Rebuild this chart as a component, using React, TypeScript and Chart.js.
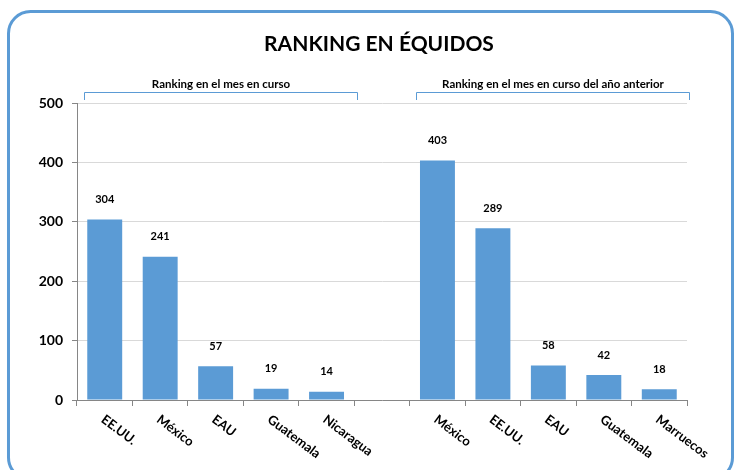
import React, { useEffect, useRef } from "react";
import { Chart, registerables } from "chart.js";

Chart.register(...registerables);

const TITLE = "RANKING EN ÉQUIDOS";
const GROUP_TITLES = ["Ranking en el mes en curso", "Ranking en el mes en curso del año anterior"];
const CATEGORIES = ["EE.UU.", "México", "EAU", "Guatemala", "Nicaragua", "", "México", "EE.UU.", "EAU", "Guatemala", "Marruecos"];
const VALUES: (number | null)[] = [304, 241, 57, 19, 14, null, 403, 289, 58, 42, 18];
const Y_TICKS = [0, 100, 200, 300, 400, 500];
const GROUP_RANGES = [[0, 4], [6, 10]];

const FONT = "Lato, 'Open Sans', sans-serif";
const BLUE = "#5B9BD5";

const decorPlugin = {
  id: "decor",
  beforeDraw(chart: any) {
    const ctx = chart.ctx;
    ctx.save();
    ctx.fillStyle = "#ffffff";
    ctx.fillRect(0, 0, chart.width, chart.height);
    ctx.strokeStyle = BLUE;
    ctx.lineWidth = 3;
    ctx.beginPath();
    (ctx as any).roundRect(8.5, 11.5, 724, 468, 22);
    ctx.stroke();
    ctx.restore();
  },
  afterDraw(chart: any) {
    const ctx = chart.ctx;
    const x = chart.scales.x;
    const y = chart.scales.y;
    ctx.save();
    // title
    ctx.fillStyle = "#000";
    ctx.font = `bold 21px ${FONT}`;
    ctx.textAlign = "center";
    ctx.textBaseline = "middle";
    ctx.fillText(TITLE, 379, 44);

    // brackets
    GROUP_RANGES.forEach((r, i) => {
      const x0 = Math.round(x.getPixelForValue(r[0]) - 21) + 0.5;
      const x1 = Math.round(x.getPixelForValue(r[1]) + 30) + 0.5;
      ctx.strokeStyle = BLUE;
      ctx.lineWidth = 1;
      ctx.beginPath();
      ctx.moveTo(x0, 100);
      ctx.lineTo(x0, 92.5);
      ctx.lineTo(x1, 92.5);
      ctx.lineTo(x1, 100);
      ctx.stroke();
      ctx.fillStyle = "#000";
      ctx.font = `bold 11.5px ${FONT}`;
      ctx.textAlign = "center";
      ctx.textBaseline = "middle";
      ctx.fillText(GROUP_TITLES[i], (x0 + x1) / 2, 84);
    });

    // value labels
    const meta = chart.getDatasetMeta(0);
    ctx.font = `bold 11px ${FONT}`;
    ctx.fillStyle = "#000";
    ctx.textAlign = "center";
    ctx.textBaseline = "middle";
    meta.data.forEach((bar: any, i: number) => {
      const v = VALUES[i];
      if (v == null) return;
      ctx.fillText(String(v), bar.x, y.getPixelForValue(v) - 20);
    });

    // x labels rotated
    ctx.font = `bold 13px ${FONT}`;
    ctx.textAlign = "left";
    ctx.textBaseline = "middle";
    CATEGORIES.forEach((c, i) => {
      if (!c) return;
      const cx = x.getPixelForValue(i);
      ctx.save();
      ctx.translate(cx - 2, 418);
      ctx.rotate((37 * Math.PI) / 180);
      ctx.fillText(c, 0, 0);
      ctx.restore();
    });
    ctx.restore();
  },
};

export default function App() {
  const ref = useRef<HTMLCanvasElement>(null);
  useEffect(() => {
    document.body.style.margin = "0";
    const chart = new Chart(ref.current!, {
      type: "bar",
      data: {
        labels: CATEGORIES,
        datasets: [
          {
            data: VALUES,
            backgroundColor: BLUE,
            categoryPercentage: 1,
            barPercentage: 0.63,
          },
        ],
      },
      options: {
        animation: false,
        responsive: false,
        layout: { padding: { left: 0, right: 53, top: 103, bottom: 0 } },
        plugins: { legend: { display: false }, tooltip: { enabled: false }, title: { display: false } },
        scales: {
          x: {
            ticks: { display: false },
            grid: { drawOnChartArea: false, drawTicks: true, tickLength: 6, color: "#868686", offset: true },
            border: { color: "#868686", width: 1 },
            afterFit: (s: any) => { s.height = 70; },
          },
          y: {
            min: 0,
            max: 500,
            afterBuildTicks: (s: any) => { s.ticks = Y_TICKS.map((v) => ({ value: v })); },
            ticks: {
              color: "#000",
              font: { family: FONT, weight: "bold", size: 14 },
              padding: 9,
            },
            grid: { color: "#D9D9D9", tickColor: "#868686", tickLength: 5 },
            border: { color: "#868686", width: 1 },
            afterFit: (s: any) => { s.width = 77; },
          },
        },
      },
      plugins: [decorPlugin],
    });
    return () => chart.destroy();
  }, []);
  return (
    <div style={{ position: "fixed", left: 0, top: 0, width: 740, height: 470 }}>
      <canvas ref={ref} width={740} height={470} style={{ width: 740, height: 470 }} />
    </div>
  );
}
